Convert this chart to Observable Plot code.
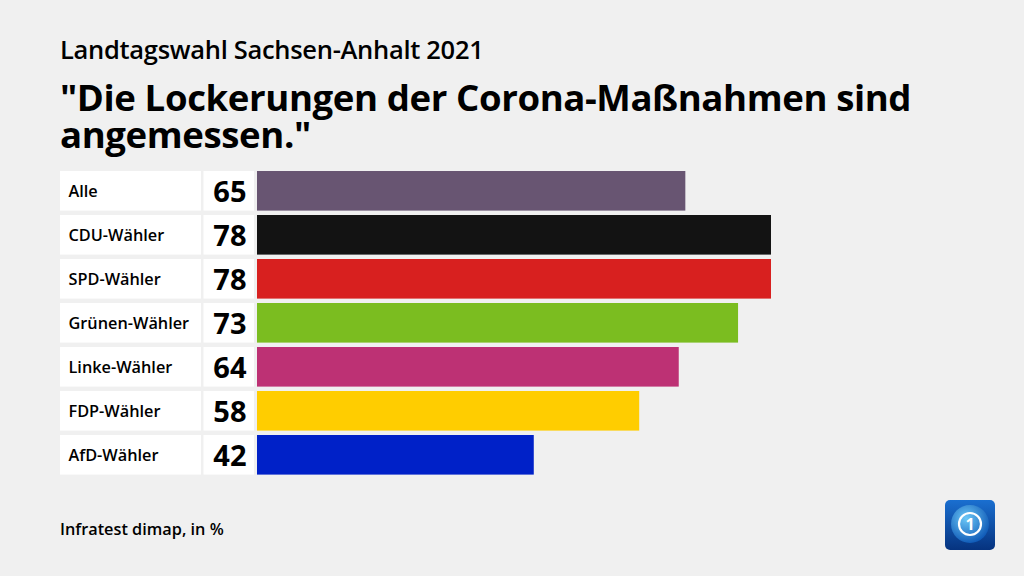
<!DOCTYPE html>
<html><head><meta charset="utf-8">
<script src="https://cdn.jsdelivr.net/npm/d3@7"></script>
<script src="https://cdn.jsdelivr.net/npm/@observablehq/plot@0.6"></script>
<style>
html,body{margin:0;padding:0;background:#f0f0f0;}
#wrap{position:relative;width:1024px;height:576px;overflow:hidden;background:#f0f0f0;font-family:"Open Sans","Noto Sans",sans-serif;color:#000;}
#sup{position:absolute;left:60px;top:32px;font-size:25.5px;font-weight:600;letter-spacing:-0.3px;}
#title{position:absolute;left:60px;top:79px;font-size:36.6px;font-weight:700;line-height:37px;letter-spacing:-0.4px;width:940px;}
#chart{position:absolute;left:0;top:160px;}
#cap{position:absolute;left:60px;top:518px;font-size:16.3px;font-weight:600;}
#logo{position:absolute;left:945px;top:500px;}
</style></head>
<body><div id="wrap">
<div id="sup">Landtagswahl Sachsen-Anhalt 2021</div>
<div id="title">"Die Lockerungen der Corona-Maßnahmen sind angemessen."</div>
<div id="chart"></div>
<div id="cap">Infratest dimap, in %</div>
<div id="logo"><svg width="50" height="50" viewBox="0 0 50 50">
<defs><linearGradient id="lg" x1="0" y1="0" x2="0" y2="1"><stop offset="0" stop-color="#1a6fd0"/><stop offset="1" stop-color="#06337f"/></linearGradient>
<radialGradient id="rg" cx="0.4" cy="0.35" r="0.7"><stop offset="0" stop-color="#6cc8f7"/><stop offset="1" stop-color="#0b55b4"/></radialGradient></defs>
<rect x="0" y="0" width="50" height="50" rx="5" fill="url(#lg)"/>
<circle cx="25" cy="24" r="19" fill="url(#rg)"/>
<circle cx="25" cy="24" r="11" fill="none" stroke="#fff" stroke-width="2.2"/>
<text x="25" y="30" text-anchor="middle" font-family="Open Sans" font-weight="700" font-size="16" fill="#fff">1</text>
</svg></div>
</div>
<script>
const groups = ["Alle","CDU-Wähler","SPD-Wähler","Grünen-Wähler","Linke-Wähler","FDP-Wähler","AfD-Wähler"];
const values = [65,78,78,73,64,58,42];
const colors = ["#685572","#131313","#d8201f","#7bbd20","#bd3174","#ffcd00","#0021c8"];

const rows = groups.map((g,i)=>({group:g, value:values[i], color:colors[i]}));

// layout: x scale maps 0..78 to pixels 257..771; side cells expressed in same data space
const x0 = 257, x1 = 771, maxV = 78;
const px = p => (p - x0) * maxV / (x1 - x0);

const chart = Plot.plot({
  width: 1024, height: 330,
  marginLeft: 0, marginRight: 0, marginTop: 0, marginBottom: 0,
  style: {background: "transparent", fontFamily: "'Open Sans','Noto Sans',sans-serif", overflow: "visible"},
  x: {domain: [0, maxV], range: [x0, x1], axis: null},
  y: {domain: groups, range: [6.6, 319], padding: 0.1, round: false, axis: null},
  marks: [
    Plot.barX(rows, {y: "group", x1: px(60), x2: px(201), fill: "white"}),
    Plot.barX(rows, {y: "group", x1: px(203.5), x2: px(254), fill: "white"}),
    Plot.barX(rows, {y: "group", x1: 0, x2: "value", fill: "color"}),
    Plot.text(rows, {y: "group", x: px(68), text: "group", textAnchor: "start", fontSize: 16.3, fontWeight: 600, fill: "black", dy: 0}),
    Plot.text(rows, {y: "group", x: px(246), text: d => String(d.value), textAnchor: "end", fontSize: 29, fontWeight: 700, fill: "black", dy: 1})
  ]
});
document.getElementById("chart").appendChild(chart);
</script>
</body></html>
